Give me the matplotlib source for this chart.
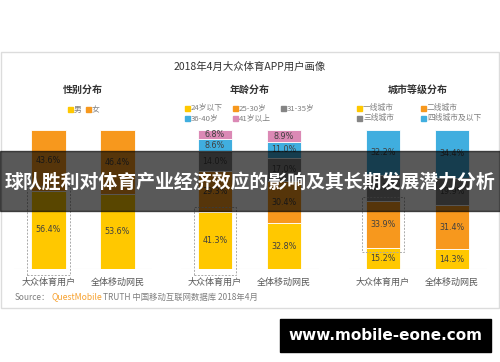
# -*- coding: utf-8 -*-
# 2018年4月大众体育APP用户画像 - stacked bars, three panels

import numpy as np
import matplotlib.pyplot as plt
from matplotlib.patches import Rectangle

plt.rcParams['font.family'] = ['Noto Sans CJK SC', 'DejaVu Sans']

W, H = 500, 362

# data
groups = ['大众体育用户', '全体移动网民']

gender_labels = ['男', '女']
gender_vals = [[56.4, 53.6],
               [43.6, 46.4]]

age_labels = ['24岁以下', '25-30岁', '31-35岁', '36-40岁', '41岁以上']
age_vals = [[41.3, 32.8],
            [29.3, 30.4],
            [14.0, 17.0],
            [8.6, 11.0],
            [6.8, 8.9]]

city_labels = ['一线城市', '二线城市', '三线城市', '四线城市及以下']
city_vals = [[15.2, 14.3],
             [33.9, 31.4],
             [18.7, 19.9],
             [32.2, 34.4]]

yellow = '#FFC800'
orange = '#F7981D'
gray = '#858585'
blue = '#40AEDF'
pink = '#DB89B5'
txt = '#404040'

fig = plt.figure(figsize=(W / 100, H / 100), dpi=100)


def fx(px):
    return px / W


def fy(py):
    return 1 - py / H


# outer frame
fig.patches.append(Rectangle((fx(0.5), fy(308)), fx(498.5), (308 - 52) / H,
                             transform=fig.transFigure, fill=False,
                             edgecolor='#dcdcdc', linewidth=1.0))

fig.text(fx(250), fy(67), '2018年4月大众体育APP用户画像', ha='center', va='center',
         fontsize=7.5, color='#333333')


def panel(x0, title, labels, vals, colors, highlight, legend_cols):
    ax = fig.add_axes([fx(x0), fy(269), fx(138), 139 / H])
    ax.set_xlim(-0.5, 1.5)
    ax.set_ylim(0, 100)
    x = np.arange(len(groups))
    bottom = np.zeros(len(groups))
    for lab, v, c in zip(labels, vals, colors):
        v = np.array(v)
        ax.bar(x, v, 0.5, bottom=bottom, color=c, edgecolor='white',
               linewidth=0.6, label=lab)
        for xi, b, vi in zip(x, bottom, v):
            ax.text(xi, b + vi / 2, '%.1f%%' % vi, ha='center', va='center',
                    fontsize=5.8, color=txt, family=['DejaVu Sans'])
        bottom += v
    # dashed highlight box around one segment of the first bar
    seg = highlight
    lo = sum(vals[k][0] for k in range(seg))
    hi = lo + vals[seg][0]
    y0 = lo - 3 if seg > 0 else -4.5
    ax.add_patch(Rectangle((-0.31, y0), 0.62, hi + 3 - y0, fill=False,
                           edgecolor='#aaaaaa', linestyle=(0, (2, 1.5)),
                           linewidth=0.7, clip_on=False, zorder=5))
    ax.axhline(0, color='#e0e0e0', linewidth=0.8, zorder=0)
    for s in ax.spines.values():
        s.set_visible(False)
    ax.set_yticks([])
    ax.set_xticks(x)
    ax.set_xticklabels(groups, fontsize=6.5, color='#595959')
    ax.tick_params(axis='x', length=0, pad=6)

    cx = x0 + 69
    fig.text(fx(cx), fy(90), title, ha='center', va='center', fontsize=7.2,
             color='#333333', fontweight='bold')
    # legend
    for i, (lab, c) in enumerate(zip(labels, colors)):
        col = i % legend_cols[0]
        row = i // legend_cols[0]
        mx = legend_cols[1] + col * legend_cols[2]
        my = legend_cols[3] + row * 10
        fig.patches.append(Rectangle((fx(mx - 2.5), fy(my + 2.5)), fx(5), 5 / H,
                                     transform=fig.transFigure, color=c))
        fig.text(fx(mx + 4), fy(my), lab, ha='left', va='center',
                 fontsize=5.6, color='#7f7f7f')
    return ax


panel(14, '性别分布', gender_labels, gender_vals, [yellow, orange], 0,
      (2, 70, 18, 110))
panel(180.5, '年龄分布', age_labels, age_vals,
      [yellow, orange, gray, blue, pink], 0, (3, 187, 48, 108))
panel(348.5, '城市等级分布', city_labels, city_vals,
      [yellow, orange, gray, blue], 1, (2, 359, 64, 108))

# source line
fig.text(fx(15), fy(297), 'Source：', ha='left', va='center', fontsize=6,
         color='#7f7f7f')
fig.text(fx(52), fy(297), 'QuestMobile', ha='left', va='center', fontsize=6.2,
         color='#F7A12F')
fig.text(fx(103), fy(297), 'TRUTH 中国移动互联网数据库 2018年4月', ha='left',
         va='center', fontsize=6, color='#7f7f7f')

# dark banner across the chart
fig.patches.append(Rectangle((0, fy(211)), 1, 60 / H, transform=fig.transFigure,
                             color='black', alpha=0.65, zorder=20))
fig.text(0.5, fy(182), '球队胜利对体育产业经济效应的影响及其长期发展潜力分析',
         ha='center', va='center', fontsize=13.6, color='white',
         fontweight='bold', zorder=21)

# watermark
fig.patches.append(Rectangle((fx(280), fy(352)), fx(211), 33 / H,
                             transform=fig.transFigure, color='black', zorder=20))
fig.text(fx(385.5), fy(336), 'www.mobile-eone.com', ha='center', va='center',
         fontsize=11, color='white', fontweight='bold', zorder=21,
         family=['DejaVu Sans'])

fig.savefig('out.png', dpi=100)
